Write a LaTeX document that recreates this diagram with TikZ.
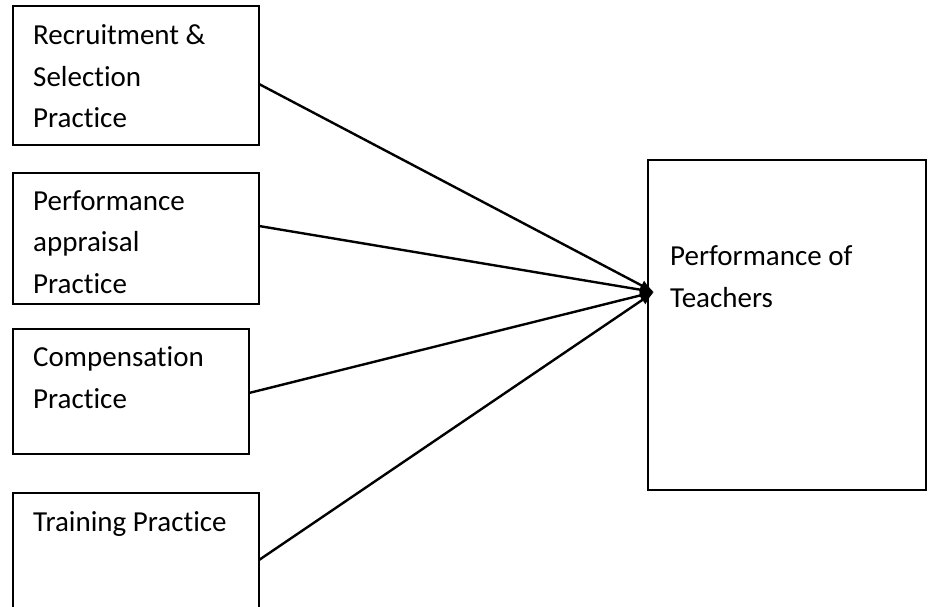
\documentclass[tikz,border=0pt]{standalone}
\usepackage{fontspec}
\setmainfont{Carlito}[Ligatures=NoCommon]
\usetikzlibrary{arrows.meta}
\begin{document}
\begin{tikzpicture}[x=1pt,y=-1pt,
  box/.style={draw=black, line width=2.6pt, anchor=north west, inner sep=0pt, outer sep=0pt},
  lbl/.style={anchor=base west, inner sep=0pt, align=left, font=\fontsize{29}{41.5}\selectfont},
  link/.style={line width=2.4pt, -{Latex[length=14pt,width=11pt]}}]
\useasboundingbox[fill=white] (0,0) rectangle (928,607);
% boxes
\node[box, minimum width=246pt, minimum height=139pt] (b1) at (13,6) {};
\node[box, minimum width=246pt, minimum height=131pt] (b2) at (13,173) {};
\node[box, minimum width=236pt, minimum height=125pt] (b3) at (13,329) {};
\node[box, minimum width=246pt, minimum height=147pt] (b4) at (13,493) {};
\node[box, minimum width=278pt, minimum height=330pt] (r) at (648,160) {};
% labels (anchored at the baseline of the last line)
\node[lbl] (t1) at (33,128) {Recruitment \&\\Selection\\Practice};
\node[lbl] (t2) at (33,293) {Performance\\appraisal\\Practice};
\node[lbl] (t3) at (33,408) {Compensation\\Practice};
\node[lbl] (t4) at (33,531) {Training Practice};
\node[lbl] (tr) at (670,307) {Performance of\\Teachers};
% connectors
\coordinate (tip) at (654,292);
\draw[link] ([yshift=-8.5pt]b1.east) -- (tip);
\draw[link] ([yshift=12.5pt]b2.east) -- (tip);
\draw[link] ([yshift=-1.5pt]b3.east) -- (tip);
\draw[link] ([yshift=-67pt]b4.north east) -- (tip);
\end{tikzpicture}
\end{document}
